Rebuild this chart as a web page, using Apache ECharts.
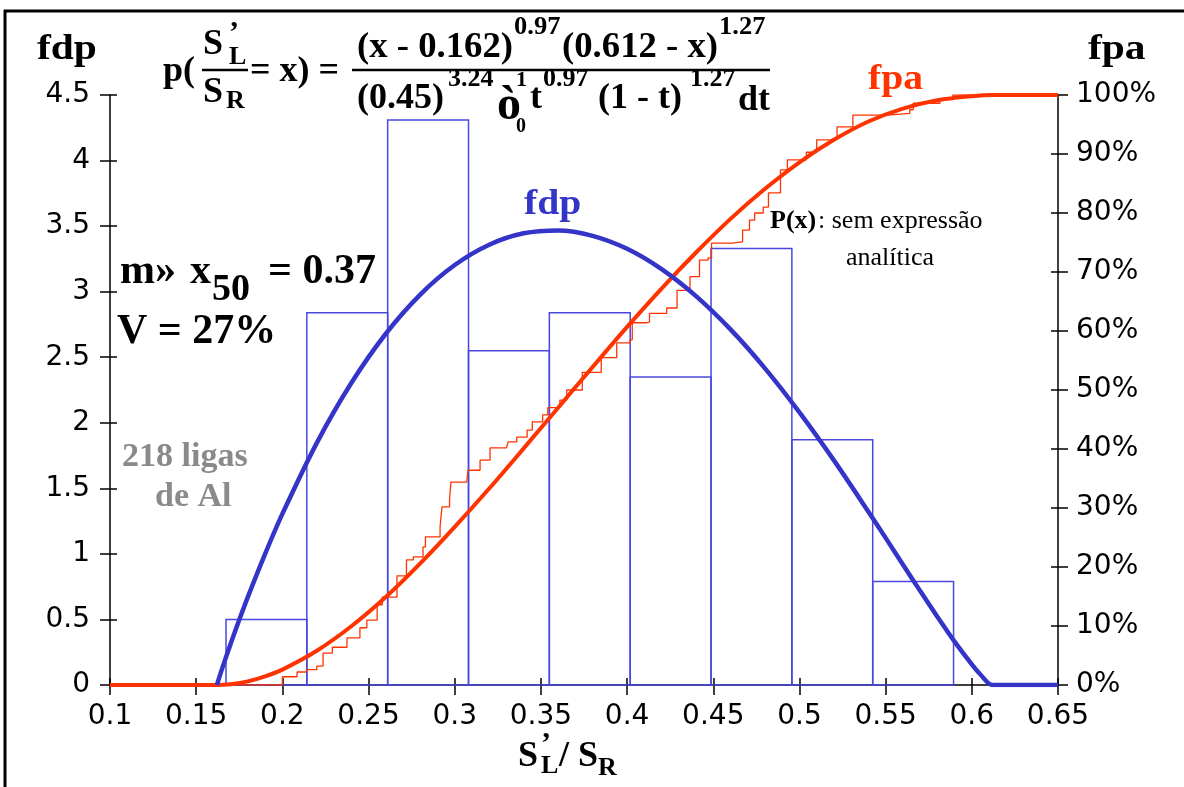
<!DOCTYPE html>
<html>
<head>
<meta charset="utf-8">
<script src="https://cdn.jsdelivr.net/npm/echarts@6/dist/echarts.min.js"></script>
<style>
  html, body { margin: 0; padding: 0; background: #fff; }
  #chart { width: 1184px; height: 787px; }
</style>
</head>
<body>
<div id="chart"></div>
<script>
// Histogram of S'L/SR for 218 aluminium alloys (class edges and density)
const binEdges = [0.1673, 0.2142, 0.2611, 0.3080, 0.3549, 0.4018, 0.4487, 0.4956, 0.5425, 0.5894];
const binDensity = [0.50, 2.84, 4.31, 2.55, 2.84, 2.35, 3.33, 1.87, 0.79];

// Fitted beta density (fdp)
const fdpX = [0.162, 0.165, 0.170, 0.175, 0.180, 0.190, 0.200, 0.220, 0.240, 0.260, 0.280, 0.300,
              0.320, 0.340, 0.360, 0.380, 0.400, 0.420, 0.440, 0.460, 0.480, 0.500, 0.520, 0.540,
              0.550, 0.560, 0.570, 0.580, 0.590, 0.600, 0.605, 0.612, 0.650];
const fdpY = [0.000, 0.123, 0.315, 0.497, 0.672, 1.000, 1.305, 1.847, 2.303, 2.679, 2.978, 3.203,
              3.358, 3.445, 3.467, 3.426, 3.327, 3.172, 2.966, 2.712, 2.415, 2.079, 1.713, 1.322,
              1.122, 0.919, 0.718, 0.521, 0.331, 0.157, 0.080, 0.000, 0.000];

// Fitted cumulative probability (fpa), percent
const fpaX = [0.100, 0.162, 0.170, 0.180, 0.190, 0.200, 0.220, 0.240, 0.260, 0.280, 0.300, 0.320,
              0.340, 0.360, 0.380, 0.400, 0.420, 0.440, 0.460, 0.480, 0.500, 0.520, 0.540, 0.560,
              0.580, 0.600, 0.612, 0.650];
const fpaY = [0.0, 0.0, 0.13, 0.62, 1.46, 2.61, 5.8, 9.95, 14.9, 20.6, 26.8, 33.3,
              40.1, 47.0, 53.9, 60.7, 67.2, 73.3, 79.0, 84.1, 88.6, 92.4, 95.5, 97.7,
              99.1, 99.8, 100.0, 100.0];

// Empirical cumulative frequency of the 218 alloys, percent
const ecdfX = [0.100, 0.185, 0.200, 0.2085, 0.214, 0.220, 0.2236, 0.229, 0.2375, 0.245, 0.249, 0.255,
               0.258, 0.2665, 0.272, 0.276, 0.2816, 0.283, 0.2915, 0.2926, 0.297, 0.2978, 0.307, 0.3077,
               0.3147, 0.3205, 0.330, 0.331, 0.336, 0.342, 0.345, 0.351, 0.354, 0.361, 0.365, 0.374,
               0.385, 0.394, 0.4017, 0.403, 0.4115, 0.413, 0.423, 0.429, 0.4365, 0.442, 0.447, 0.449,
               0.461, 0.467, 0.471, 0.474, 0.479, 0.482, 0.489, 0.493, 0.504, 0.510, 0.5177, 0.5218,
               0.531, 0.551, 0.564, 0.566, 0.5815, 0.589, 0.650];
const ecdfY = [0.0, 0.0, 1.4, 2.2, 2.6, 3.2, 5.4, 6.4, 8.0, 9.7, 11.0, 13.6,
               14.9, 18.5, 21.2, 21.7, 23.4, 25.1, 26.8, 30.2, 31.4, 34.4, 34.7, 36.4,
               38.1, 40.2, 40.2, 41.2, 42.0, 43.2, 44.6, 45.8, 47.0, 48.3, 50.0, 53.0,
               55.5, 58.0, 58.5, 61.4, 61.5, 63.0, 63.9, 66.9, 69.2, 72.0, 72.4, 74.9,
               75.1, 77.1, 78.8, 80.0, 81.0, 83.4, 87.3, 89.0, 90.3, 92.4, 92.7, 94.6,
               96.6, 96.9, 97.5, 98.6, 99.2, 100.0, 100.0];

const pairs = (xs, ys) => xs.map((x, i) => [x, ys[i]]);
const histData = binDensity.map((h, i) => [binEdges[i], binEdges[i + 1], h]);

const SERIF = '"Liberation Serif", "Times New Roman", serif';
const SANS = '"DejaVu Sans", "Liberation Sans", Arial, sans-serif';
const BLUE = '#3434c8';
const RED = '#ff3300';

function txt(text, x, y, size, opt) {
  opt = opt || {};
  const a = opt.a || 'left';
  return {
    type: 'text', x: x, y: y, scaleX: opt.sx || 1, z: 100,
    style: {
      text: text,
      font: (opt.w || 'bold') + ' ' + size + 'px ' + SERIF,
      fill: opt.c || '#000',
      textAlign: a, align: a,
      textVerticalAlign: 'middle', verticalAlign: 'middle'
    }
  };
}
function rule(x1, y1, x2, y2, w) {
  return { type: 'line', z: 100, shape: { x1: x1, y1: y1, x2: x2, y2: y2 },
           style: { stroke: '#000', lineWidth: w || 2.5 } };
}

const axisLine = { show: true, lineStyle: { color: '#000', width: 1.5 } };
const tickOut = { show: true, inside: false, length: 10, lineStyle: { color: '#000', width: 1.5 } };
const tickIn = { show: true, inside: true, length: 7, lineStyle: { color: '#000', width: 1.5 } };
const labelStyle = { color: '#000', fontFamily: SANS, fontSize: 28 };

const chart = echarts.init(document.getElementById('chart'), null, { renderer: 'canvas' });

chart.setOption({
  animation: false,
  backgroundColor: '#fff',
  grid: { left: 110, right: 126, top: 95, bottom: 102, containLabel: false },
  xAxis: [
    { type: 'value', min: 0.1, max: 0.65, interval: 0.05, position: 'bottom',
      axisLine: axisLine, axisTick: tickOut, splitLine: { show: false },
      axisLabel: Object.assign({ margin: 18 }, labelStyle) },
    { type: 'value', min: 0.1, max: 0.65, interval: 0.05, position: 'bottom',
      axisLine: { show: false }, axisTick: tickIn, splitLine: { show: false },
      axisLabel: { show: false } }
  ],
  yAxis: [
    { type: 'value', min: 0, max: 4.5, interval: 0.5, position: 'left',
      axisLine: axisLine, axisTick: tickOut, splitLine: { show: false },
      axisLabel: Object.assign({ margin: 20 }, labelStyle) },
    { type: 'value', min: 0, max: 100, interval: 10, position: 'right',
      axisLine: axisLine, axisTick: tickOut, splitLine: { show: false },
      axisLabel: Object.assign({ margin: 18, formatter: '{value}%' }, labelStyle) },
    { type: 'value', min: 0, max: 4.5, interval: 0.5, position: 'left',
      axisLine: { show: false }, axisTick: tickIn, splitLine: { show: false },
      axisLabel: { show: false } },
    { type: 'value', min: 0, max: 100, interval: 10, position: 'right',
      axisLine: { show: false }, axisTick: tickIn, splitLine: { show: false },
      axisLabel: { show: false } }
  ],
  series: [
    {
      type: 'custom', xAxisIndex: 0, yAxisIndex: 0, z: 1,
      data: histData,
      renderItem: function (params, api) {
        const p0 = api.coord([api.value(0), 0]);
        const p1 = api.coord([api.value(1), api.value(2)]);
        return {
          type: 'rect',
          shape: { x: p0[0], y: p1[1], width: p1[0] - p0[0], height: p0[1] - p1[1] },
          style: { fill: 'none', stroke: '#4848de', lineWidth: 1.5 }
        };
      }
    },
    {
      type: 'line', xAxisIndex: 0, yAxisIndex: 1, z: 3,
      data: pairs(ecdfX, ecdfY), step: 'end', showSymbol: false,
      lineStyle: { color: RED, width: 1.3 }
    },
    {
      type: 'line', xAxisIndex: 0, yAxisIndex: 1, z: 4,
      data: pairs(fpaX, fpaY), smooth: 0.3, showSymbol: false,
      lineStyle: { color: RED, width: 4 }
    },
    {
      type: 'line', xAxisIndex: 0, yAxisIndex: 0, z: 5,
      data: pairs(fdpX, fdpY), smooth: 0.3, showSymbol: false,
      lineStyle: { color: BLUE, width: 4.5 }
    }
  ],
  graphic: [
    // frame
    { type: 'line', shape: { x1: 4, y1: 11, x2: 1184, y2: 11 }, style: { stroke: '#000', lineWidth: 3 } },
    { type: 'line', shape: { x1: 5, y1: 10, x2: 5, y2: 787 }, style: { stroke: '#000', lineWidth: 3 } },
    // axis headers
    txt('fdp', 37, 50, 36, { sx: 1.15 }),
    txt('fpa', 1088, 50, 36, { sx: 1.15 }),
    // density formula
    txt('p(', 163, 72, 36),
    txt('S', 203, 45, 36),
    txt('\u2019', 229, 33, 30),
    txt('L', 229, 57, 26),
    rule(202, 70, 248, 70),
    txt('S', 203, 93, 36),
    txt('R', 226, 101, 26),
    txt('= x) =', 250, 72, 36),
    rule(352, 70, 770, 70),
    txt('(x - 0.162)', 357, 48, 36, { sx: 1.02 }),
    txt('0.97', 514, 27, 26, { sx: 1.02 }),
    txt('(0.612 - x)', 562, 48, 36, { sx: 1.02 }),
    txt('1.27', 719, 27, 26, { sx: 1.02 }),
    txt('(0.45)', 357, 99, 36),
    txt('3.24', 448, 79, 26),
    txt('1', 516, 80, 22),
    txt('0', 516, 127, 20),
    txt('\u00f2', 497, 107, 48),
    txt('t', 530, 99, 36),
    txt('0.97', 543, 79, 26),
    txt('(1 - t)', 598, 99, 36),
    txt('1.27', 690, 79, 26),
    txt('dt', 738, 101, 36),
    // curve labels
    txt('fdp', 524, 205, 36, { c: BLUE, sx: 1.1 }),
    txt('fpa', 868, 80, 36, { c: RED, sx: 1.1 }),
    txt('P(x)', 770, 221, 26),
    txt(': sem express\u00e3o', 818, 221, 26, { w: 'normal' }),
    txt('anal\u00edtica', 846, 258, 26, { w: 'normal' }),
    // statistics
    txt('m\u00bb', 120, 272, 42),
    txt('x', 190, 272, 42),
    txt('50', 212, 290, 38),
    txt('= 0.37', 268, 272, 42),
    txt('V = 27%', 117, 332, 42),
    txt('218 ligas', 122, 457, 34, { c: '#8a8a8a' }),
    txt('de Al', 155, 497, 34, { c: '#8a8a8a' }),
    // x-axis title S'L / SR
    txt('S', 518, 757, 36),
    txt('\u2019', 541, 744, 30),
    txt('L', 541, 766, 26),
    txt('/ S', 559, 757, 36),
    txt('R', 598, 768, 26)
  ]
});
</script>
</body>
</html>
